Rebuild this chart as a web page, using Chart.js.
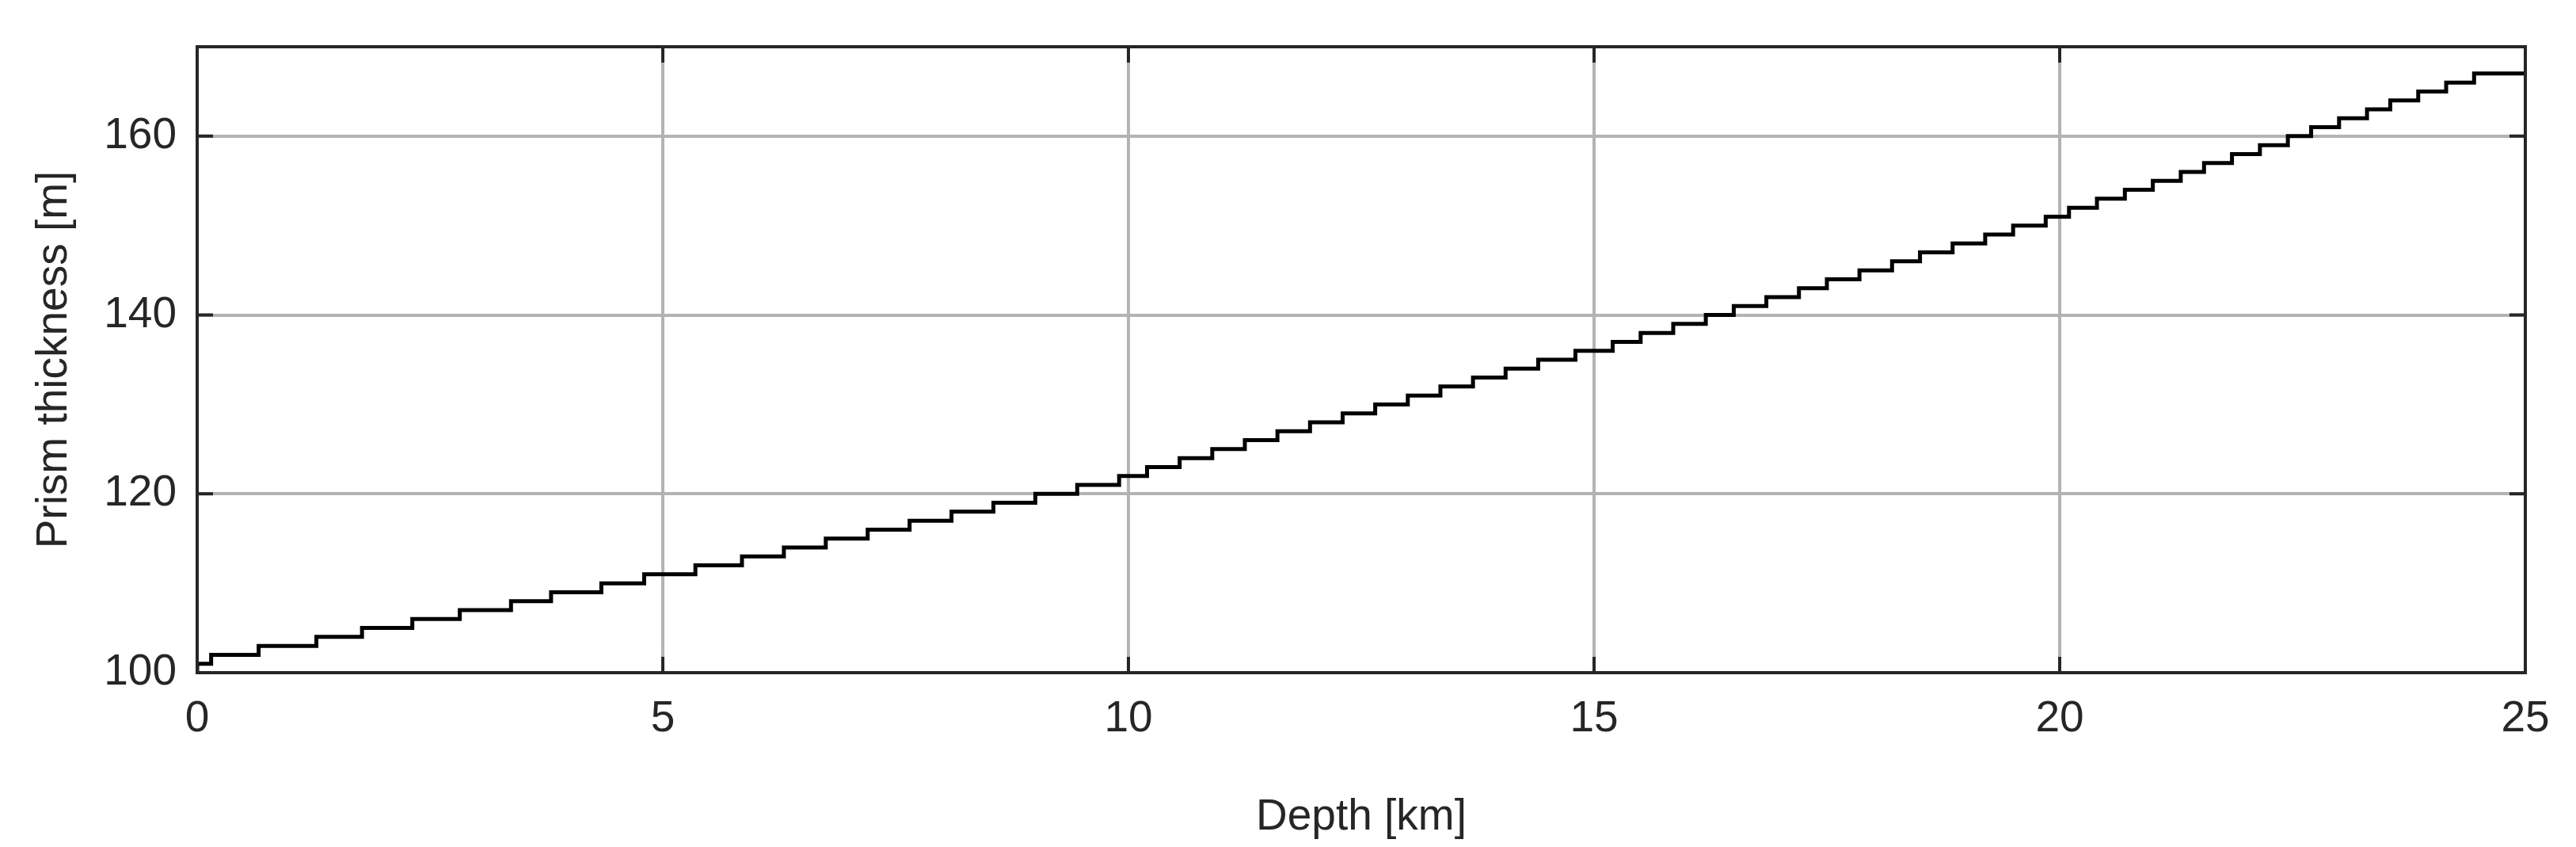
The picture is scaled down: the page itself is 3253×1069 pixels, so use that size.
<!DOCTYPE html>
<html><head><meta charset="utf-8">
<script src="https://cdn.jsdelivr.net/npm/chart.js@4/dist/chart.umd.min.js"></script>
<style>html,body{margin:0;padding:0;background:#fff}canvas{display:block}</style>
</head><body>
<canvas id="c" width="3253" height="1069"></canvas>
<script>
const riserDepths = [0.15,0.66,1.28,1.77,2.31,2.82,3.37,3.80,4.34,4.80,
  5.35,5.85,6.3,6.75,7.2,7.65,8.1,8.55,9.0,9.45,9.9,
  10.2,10.55,10.9,11.25,11.6,11.95,12.3,12.65,13.0,13.35,13.7,14.05,14.4,14.8,
  15.2,15.5,15.85,16.2,16.5,16.85,17.2,17.5,17.85,18.2,18.5,18.85,19.2,19.5,19.85,
  20.1,20.4,20.7,21.0,21.3,21.55,21.85,22.15,22.45,22.7,23.0,23.3,23.55,23.85,24.15,24.45,24.75];
const startThickness = 100;
const xTicks = [0,5,10,15,20,25];
const yTicks = [100,120,140,160];
const pts = [{x:0,y:startThickness}];
riserDepths.forEach((d,i)=>pts.push({x:d,y:startThickness+i+1}));
pts.push({x:25,y:startThickness+riserDepths.length});

const txt='#262626';
const FONT='Liberation Sans, Arial, sans-serif';
const frame={id:'frame',afterDatasetsDraw(ch){
  const {ctx,chartArea:a,scales:{x,y}}=ch;ctx.save();
  ctx.strokeStyle=txt;ctx.lineWidth=4;
  const L=20;
  ctx.beginPath();
  xTicks.forEach(v=>{const p=x.getPixelForValue(v);ctx.moveTo(p,a.bottom);ctx.lineTo(p,a.bottom-L);ctx.moveTo(p,a.top);ctx.lineTo(p,a.top+L);});
  yTicks.forEach(v=>{const p=y.getPixelForValue(v);ctx.moveTo(a.left,p);ctx.lineTo(a.left+L,p);ctx.moveTo(a.right,p);ctx.lineTo(a.right-L,p);});
  ctx.stroke();
  ctx.strokeRect(a.left,a.top,a.right-a.left,a.bottom-a.top);
  ctx.restore();}};

new Chart(document.getElementById('c'),{
  type:'line',
  data:{datasets:[{data:pts,stepped:'after',borderColor:'#000',borderWidth:5,pointRadius:0,fill:false}]},
  options:{responsive:false,devicePixelRatio:1,animation:false,
    layout:{padding:{left:0,right:64,top:40,bottom:0}},
    plugins:{legend:{display:false},tooltip:{enabled:false}},
    scales:{
      x:{type:'linear',min:0,max:25,
        afterBuildTicks(s){s.ticks=xTicks.map(v=>({value:v}));},
        afterFit(s){s.height=220;},
        grid:{color:'#b3b3b3',lineWidth:4,drawTicks:false},border:{display:false},
        ticks:{color:txt,font:{family:FONT,size:55},padding:26,maxRotation:0},
        title:{display:true,text:'Depth [km]',color:txt,font:{family:FONT,size:55},padding:{top:12}}},
      y:{min:100,max:170,
        afterBuildTicks(s){s.ticks=yTicks.map(v=>({value:v}));},
        afterFit(s){s.width=249;},
        grid:{color:'#b3b3b3',lineWidth:4,drawTicks:false},border:{display:false},
        ticks:{color:txt,font:{family:FONT,size:55},padding:26},
        title:{display:true,text:'Prism thickness [m]',color:txt,font:{family:FONT,size:55},padding:{top:36,bottom:10}}}
    }},
  plugins:[frame]});
</script>
</body></html>
